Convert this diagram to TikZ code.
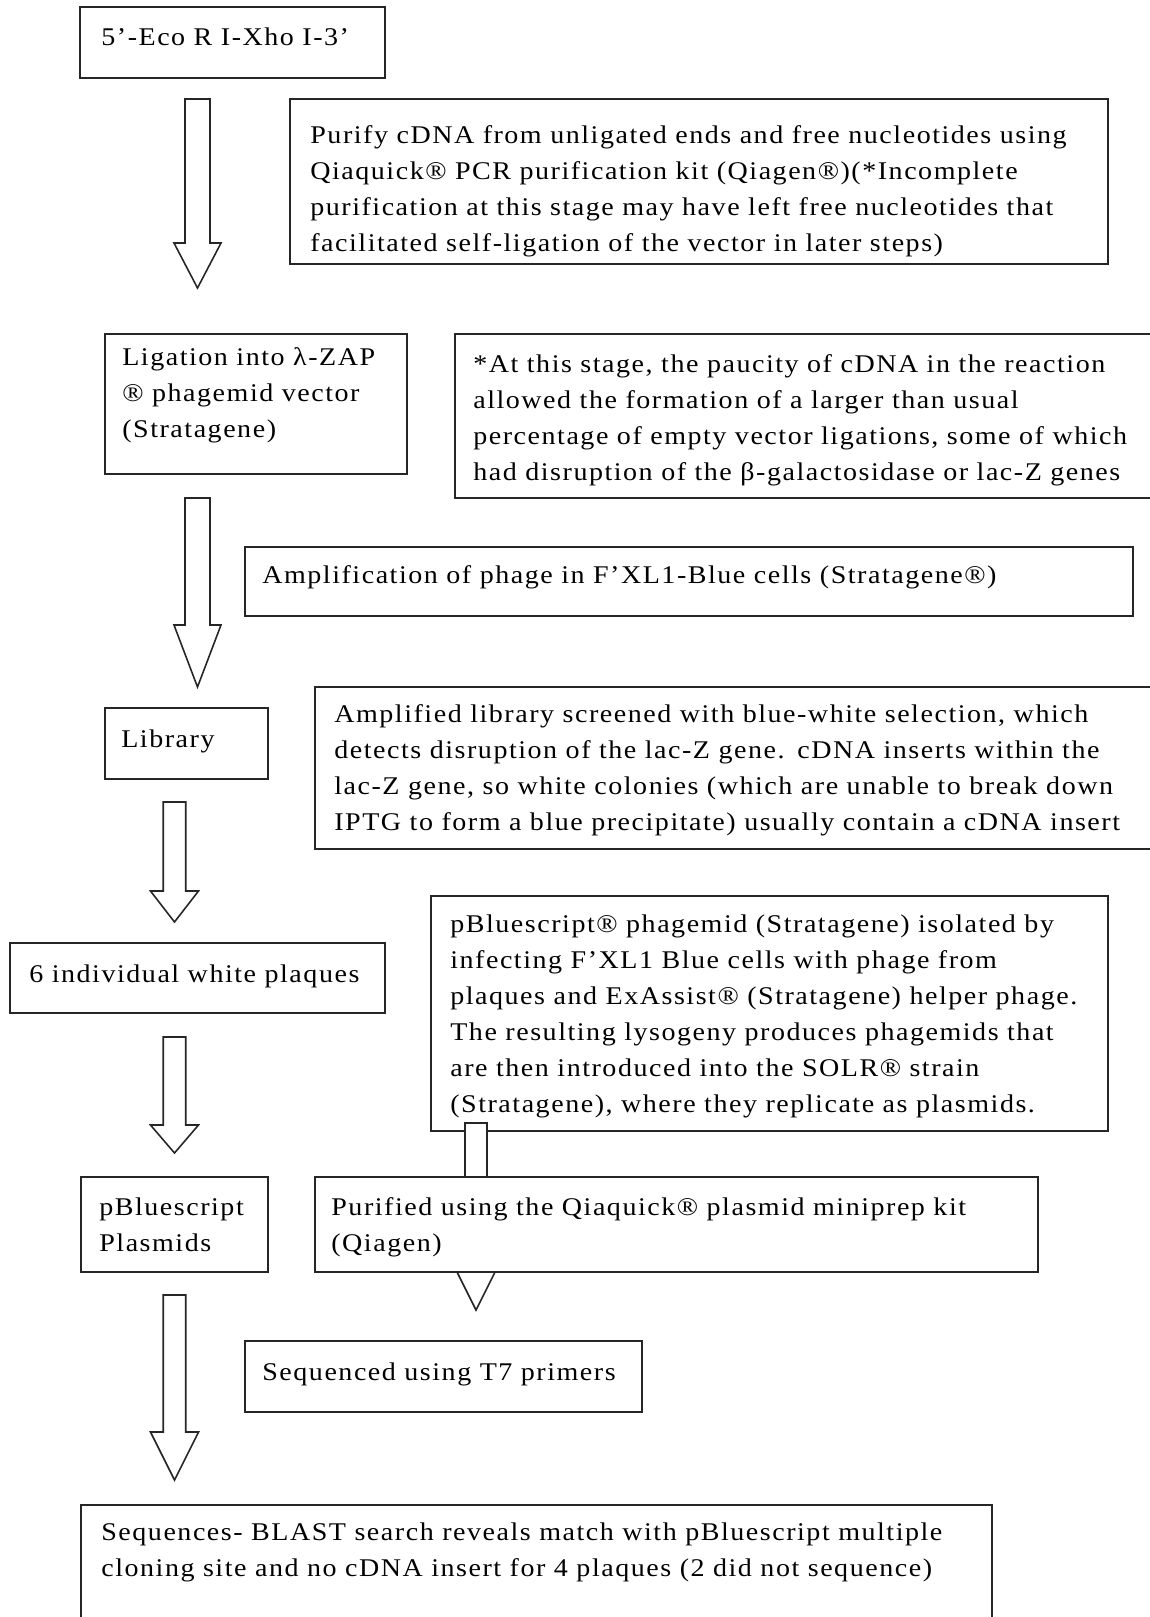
\documentclass[tikz,border=0pt]{standalone}
\usepackage{fontspec}
\setmainfont{Liberation Serif}[FakeStretch=1.1, LetterSpace=6.0]
\usetikzlibrary{calc, fit}

% block arrow: top, tip, half shaft, half head, head length
\newcommand{\blockarrow}[5]{%
  \draw[blk] ($(#1)+(-#3,0)$) -- ($(#2)+(-#3,-#5)$) -- ($(#2)+(-#4,-#5)$) -- (#2)
    -- ($(#2)+(#4,-#5)$) -- ($(#2)+(#3,-#5)$) -- ($(#1)+(#3,0)$) -- cycle;}

\begin{document}
\begin{tikzpicture}[x=0.02cm, y=-0.02cm,
        every node/.style={font=\fontsize{14.5}{20.5}\selectfont},
        box/.style={draw=black!85, line width=0.9pt, fill=white, inner sep=0pt},
        txt/.style={anchor=base west, inner sep=0pt, text width=21cm, align=left},
        blk/.style={draw=black!85, line width=0.9pt, fill=white, line join=miter}
      ]
      \useasboundingbox (0,0) rectangle (1150,1617);
      \clip (0,0) rectangle (1150,1617);

      % Start
      \node[box, fit={(80,7) (385,78)}] (eco) {};
      \node[txt] (eco-t) at (101,45) {5’-Eco R I-Xho I-3’};

      % Purification note
      \node[box, fit={(290,99) (1108,264)}] (purify) {};
      \node[txt] (purify-t) at (310,143) {Purify cDNA from unligated ends and free nucleotides using\\
        Qiaquick® PCR purification kit (Qiagen®)(*Incomplete\\
        purification at this stage may have left free nucleotides that\\
        facilitated self-ligation of the vector in later steps)};

      % Ligation
      \node[box, fit={(105,334) (407,474)}] (ligation) {};
      \node[txt] (ligation-t) at (122,365) {Ligation into λ-ZAP\\ ® phagemid vector\\ (Stratagene)};

      \node[box, fit={(455,334) (1160,498)}] (paucity) {};
      \node[txt] (paucity-t) at (473,372) {*At this stage, the paucity of cDNA in the reaction\\
        allowed the formation of a larger than usual\\
        percentage of empty vector ligations, some of which\\
        had disruption of the β-galactosidase or lac-Z genes};

      % Amplification
      \node[box, fit={(245,547) (1133,616)}] (amplify) {};
      \node[txt] (amplify-t) at (262,583) {Amplification of phage in F’XL1-Blue cells (Stratagene®)};

      % Library and screening
      \node[box, fit={(105,708) (268,779)}] (library) {};
      \node[txt] (library-t) at (121,747) {Library};

      \node[box, fit={(315,687) (1160,849)}] (screen) {};
      \node[txt] (screen-t) at (334,722) {Amplified library screened with blue-white selection, which\\
        detects disruption of the lac-Z gene. cDNA inserts within the\\
        lac-Z gene, so white colonies (which are unable to break down\\
        IPTG to form a blue precipitate) usually contain a cDNA insert};

      % Plaques
      \node[box, fit={(10,943) (385,1013)}] (plaques) {};
      \node[txt] (plaques-t) at (29,982) {6 individual white plaques};

      \node[box, fit={(431,896) (1108,1131)}] (isolate) {};
      \node[txt] (isolate-t) at (450,932) {pBluescript® phagemid (Stratagene) isolated by\\
        infecting F’XL1 Blue cells with phage from\\
        plaques and ExAssist® (Stratagene) helper phage.\\
        The resulting lysogeny produces phagemids that\\
        are then introduced into the SOLR® strain\\
        (Stratagene), where they replicate as plasmids.};

      % arrow from isolation runs behind the miniprep box
      \coordinate (a6s) at (476,1123);
      \coordinate (a6t) at (476,1310);
      \blockarrow{a6s}{a6t}{11}{24}{48}

      % Plasmids
      \node[box, fit={(81,1177) (268,1272)}] (plasmids) {};
      \node[txt] (plasmids-t) at (99,1215) {pBluescript\\ Plasmids};

      \node[box, fit={(315,1177) (1038,1272)}] (purified) {};
      \node[txt] (purified-t) at (331,1215) {Purified using the Qiaquick® plasmid miniprep kit\\ (Qiagen)};

      % Sequencing
      \node[box, fit={(245,1341) (642,1412)}] (sequenced) {};
      \node[txt] (sequenced-t) at (262,1380) {Sequenced using T7 primers};

      \node[box, fit={(81,1505) (992,1650)}] (blast) {};
      \node[txt] (blast-t) at (101,1540) {Sequences- BLAST search reveals match with pBluescript multiple\\
        cloning site and no cDNA insert for 4 plaques (2 did not sequence)};

      % Main arrows
      \coordinate (a1s) at (197.5,99);   \coordinate (a1t) at (197.5,288);
      \coordinate (a2s) at (197.5,498);  \coordinate (a2t) at (197.5,687);
      \coordinate (a3s) at (174.5,802);  \coordinate (a3t) at (174.5,922);
      \coordinate (a4s) at (174.5,1037); \coordinate (a4t) at (174.5,1153);
      \coordinate (a5s) at (174.5,1295); \coordinate (a5t) at (174.5,1480);
      \blockarrow{a1s}{a1t}{12.5}{23.5}{45}
      \blockarrow{a2s}{a2t}{12.5}{23.5}{62}
      \blockarrow{a3s}{a3t}{11.25}{24}{31}
      \blockarrow{a4s}{a4t}{11.25}{24}{28}
      \blockarrow{a5s}{a5t}{11.25}{24}{48}
    \end{tikzpicture}
\end{document}
